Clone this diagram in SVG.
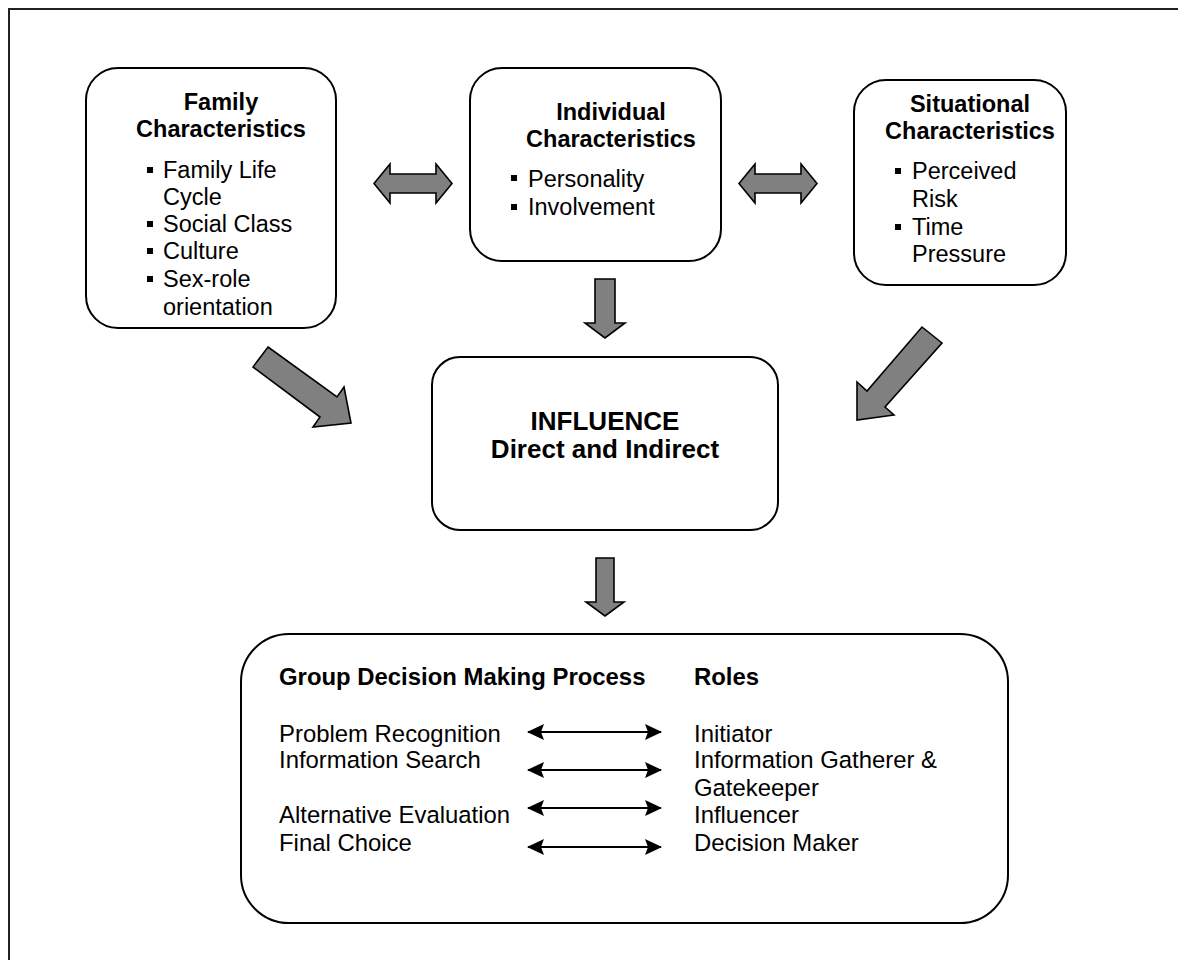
<svg xmlns="http://www.w3.org/2000/svg" width="1178" height="960" viewBox="0 0 1178 960">
<style>
text{font-family:"Liberation Sans",Arial,sans-serif;fill:#000}
.t{font-size:23.5px;font-weight:bold;text-anchor:middle}
.b{font-size:23.5px}
.pb{font-size:23.9px}
.h{font-size:23.9px;font-weight:bold}
.big{font-size:26px;font-weight:bold;text-anchor:middle}
.box{fill:#fff;stroke:#000;stroke-width:2}
.blk{fill:#000}
.fat{fill:#808080;stroke:#000;stroke-width:1.6;stroke-linejoin:miter}
.thin{fill:none;stroke:#000;stroke-width:2}
</style>
<defs>
<marker id="ah" markerUnits="userSpaceOnUse" markerWidth="17" markerHeight="16" viewBox="0 0 17 16" refX="16" refY="8" orient="auto-start-reverse">
<path d="M0,0 L17,8 L0,16 L3,8 z" fill="#000"/>
</marker>
</defs>
<rect x="0" y="0" width="1178" height="960" fill="#fff"/>
<rect x="9" y="9" width="1200" height="1000" fill="none" stroke="#222" stroke-width="2"/>

<g id="family">
<rect class="box" x="86" y="68" width="250" height="260" rx="32" ry="32"/>
<text class="t" x="221" y="110">Family</text>
<text class="t" x="221" y="137">Characteristics</text>
<rect class="blk" x="147" y="167" width="6" height="6"/>
<text class="b" x="163" y="178">Family Life</text>
<text class="b" x="163" y="205">Cycle</text>
<rect class="blk" x="147" y="221" width="6" height="6"/>
<text class="b" x="163" y="232">Social Class</text>
<rect class="blk" x="147" y="248" width="6" height="6"/>
<text class="b" x="163" y="259">Culture</text>
<rect class="blk" x="147" y="276" width="6" height="6"/>
<text class="b" x="163" y="287">Sex-role</text>
<text class="b" x="163" y="315">orientation</text>
</g>

<g id="individual">
<rect class="box" x="470" y="68" width="251" height="193" rx="32" ry="32"/>
<text class="t" x="611" y="120">Individual</text>
<text class="t" x="611" y="147">Characteristics</text>
<rect class="blk" x="511" y="175" width="6" height="6"/>
<text class="b" x="528" y="187">Personality</text>
<rect class="blk" x="511" y="204" width="6" height="6"/>
<text class="b" x="528" y="215">Involvement</text>
</g>

<g id="situational">
<rect class="box" x="854" y="80" width="212" height="205" rx="32" ry="32"/>
<text class="t" x="970" y="112">Situational</text>
<text class="t" x="970" y="139">Characteristics</text>
<rect class="blk" x="895" y="168" width="6" height="6"/>
<text class="b" x="912" y="179">Perceived</text>
<text class="b" x="912" y="207">Risk</text>
<rect class="blk" x="895" y="224" width="6" height="6"/>
<text class="b" x="912" y="235">Time</text>
<text class="b" x="912" y="262">Pressure</text>
</g>

<g id="influence">
<rect class="box" x="432" y="357" width="346" height="173" rx="28" ry="28"/>
<text class="big" x="605" y="430">INFLUENCE</text>
<text class="big" x="605" y="458">Direct and Indirect</text>
</g>

<g id="process">
<rect class="box" x="241" y="634" width="767" height="289" rx="48" ry="48"/>
<text class="h" x="279" y="685">Group Decision Making Process</text>
<text class="h" x="694" y="685">Roles</text>
<text class="pb" x="279" y="742">Problem Recognition</text>
<text class="pb" x="279" y="768">Information Search</text>
<text class="pb" x="279" y="823">Alternative Evaluation</text>
<text class="pb" x="279" y="851">Final Choice</text>
<text class="pb" x="694" y="742">Initiator</text>
<text class="pb" x="694" y="768">Information Gatherer &amp;</text>
<text class="pb" x="694" y="796">Gatekeeper</text>
<text class="pb" x="694" y="823">Influencer</text>
<text class="pb" x="694" y="851">Decision Maker</text>
</g>

<g id="connectors">
<polygon class="fat" points="374,183.5 390,164 390,174 436,174 436,164 452,183.5 436,203 436,193 390,193 390,203"/>
<polygon class="fat" points="739,183.5 755,164 755,174 801,174 801,164 817,183.5 801,203 801,193 755,193 755,203"/>
<polygon class="fat" points="595,279 615,279 615,323 625,323 605,338 585,323 595,323"/>
<polygon class="fat" points="268,347 337,397 344,387 351,423 313,427 320,417 253,367"/>
<polygon class="fat" points="922,327 942,343 885,407 894,415 857,420 857,382 867,391"/>
<polygon class="fat" points="596,558 614,558 614,602 624,602 605,616 586,602 596,602"/>
<path class="thin" d="M528,732 H661" marker-start="url(#ah)" marker-end="url(#ah)"/>
<path class="thin" d="M528,770 H661" marker-start="url(#ah)" marker-end="url(#ah)"/>
<path class="thin" d="M528,808 H661" marker-start="url(#ah)" marker-end="url(#ah)"/>
<path class="thin" d="M528,847 H661" marker-start="url(#ah)" marker-end="url(#ah)"/>
</g>
</svg>
